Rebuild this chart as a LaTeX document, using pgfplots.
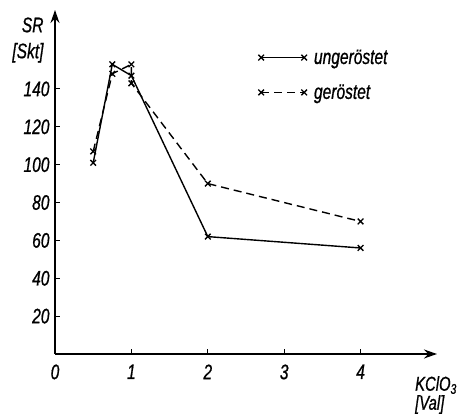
\documentclass[border=0pt]{standalone}
\usepackage{fontspec}
\setmainfont{Liberation Sans}[FakeStretch=0.74, FakeBold=0.8]
\usepackage{pgfplots}
\pgfplotsset{compat=1.18}
\usetikzlibrary{arrows.meta}
\begin{document}
\begin{tikzpicture}[x=1pt,y=1pt]
\begin{axis}[
  at={(0,0)}, anchor=south west,
  scale only axis, width=382pt, height=344pt,
  xmin=0, xmax=5, ymin=0, ymax=181.7,
  axis lines=left,
  axis line style={line width=1.6pt, -{Stealth[length=13pt,width=9pt]}},
  xtick={0,1,2,3,4}, ytick={20,40,...,140},
  tick style={line width=1pt, black},
  major tick length=5pt,
  tick align=inside,
  /pgf/number format/assume math mode=true,
  tick label style={font=\fontsize{21}{22}\selectfont\itshape},
  xticklabel style={yshift=-7pt},
  yticklabel style={xshift=-2pt},
  clip=false,
  legend cell align=left,
  legend image code/.code={\draw[#1] plot coordinates {(0pt,0pt) (43pt,0pt)};},
  legend style={draw=none, fill=none, at={(axis cs:2.62,163)}, anchor=north west,
    font=\fontsize{21}{22}\selectfont\itshape, row sep=15pt,
    nodes={inner xsep=7pt}},
]
\addplot[black, line width=1.4pt, mark=x, mark size=4pt, mark options={line width=1.3pt}]
  coordinates {(0.5,101) (0.75,153) (1,147) (2,62) (4,56)};
\addlegendentry{ungeröstet}
\addplot[black, line width=1.4pt, dash pattern=on 8pt off 5pt, mark=x, mark size=4pt, mark options={line width=1.3pt, solid}]
  coordinates {(0.5,107) (0.75,148) (1,153) (1,143) (2,90) (4,70)};
\addlegendentry{geröstet}
\end{axis}
\node[anchor=north east, align=right, font=\fontsize{21}{26}\selectfont\itshape] at (-8pt,340pt) {SR\\{[Skt]}};
\node[anchor=north west, align=left, inner sep=1pt, font=\fontsize{20}{19}\selectfont\itshape] at (359pt,-21pt) {KClO\textsubscript{3}\\{[Val]}};
\pgfresetboundingbox
\path (-55pt,-63pt) rectangle (414pt,354pt);
\end{tikzpicture}
\end{document}
